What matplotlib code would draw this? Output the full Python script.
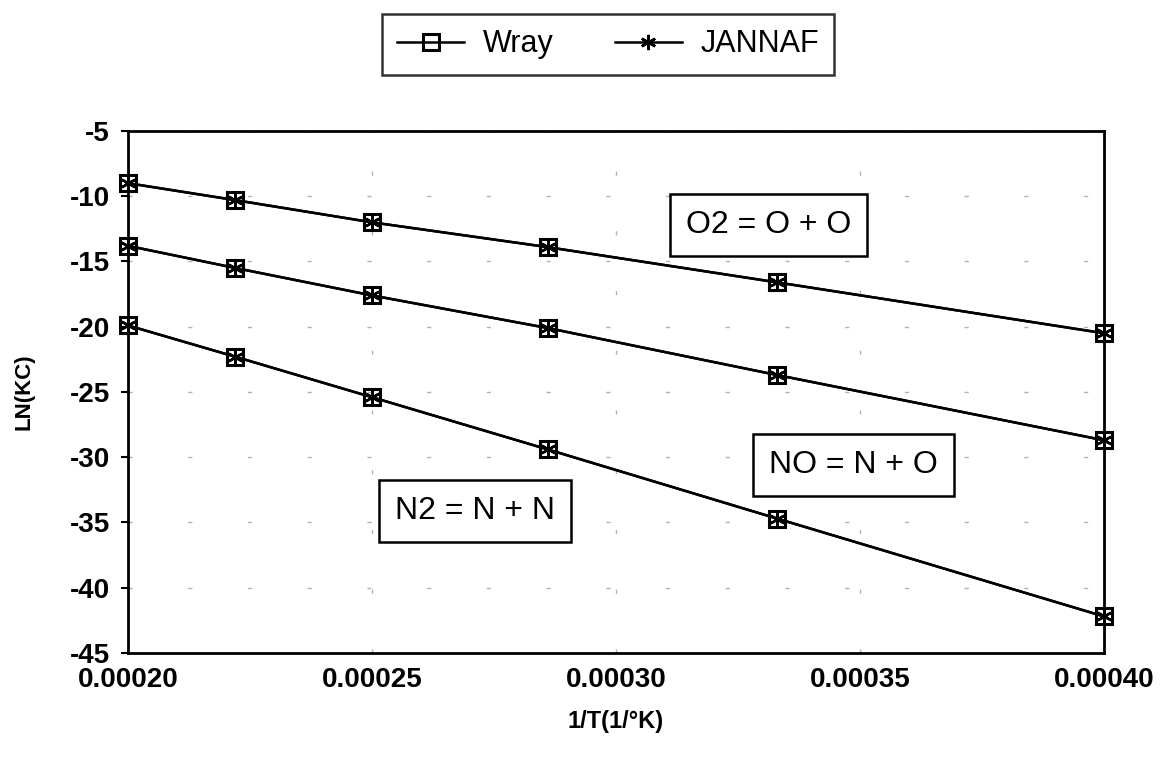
import matplotlib.pyplot as plt

plt.rcParams['font.family'] = ['Liberation Sans', 'DejaVu Sans']
plt.rcParams['axes.unicode_minus'] = False

# 1/T values for T = 5000, 4500, 4000, 3500, 3000, 2500 K
inv_t = [0.000200, 0.000222, 0.000250, 0.000286, 0.000333, 0.000400]

# LN(KC)
wray_o2 = [-9.0, -10.3, -12.0, -13.9, -16.6, -20.5]
wray_no = [-13.8, -15.5, -17.6, -20.1, -23.7, -28.7]
wray_n2 = [-19.9, -22.3, -25.4, -29.4, -34.7, -42.2]

jannaf_o2 = [-9.0, -10.3, -12.0, -13.9, -16.6, -20.5]
jannaf_no = [-13.8, -15.5, -17.6, -20.1, -23.7, -28.7]
jannaf_n2 = [-19.9, -22.3, -25.4, -29.4, -34.7, -42.2]

reactions = ['O2 = O + O', 'NO = N + O', 'N2 = N + N']
label_pos = [(0.0003313, -12.2), (0.0003486, -30.6), (0.0002711, -34.1)]

fig = plt.figure(figsize=(11.76, 7.65), dpi=100)
ax = fig.add_axes([0.1088, 0.1464, 0.83, 0.6824])

wray_sets = [wray_o2, wray_no, wray_n2]
jannaf_sets = [jannaf_o2, jannaf_no, jannaf_n2]

for i, (w, j) in enumerate(zip(wray_sets, jannaf_sets)):
    ax.plot(inv_t, w, color='black', lw=1.8, marker='s', ms=12,
            mfc='none', mec='black', mew=2.2,
            label='Wray' if i == 0 else None, clip_on=False, zorder=3)
    ax.plot(inv_t, j, color='black', lw=1.8, marker=(6, 2, 0), ms=11,
            mec='black', mew=1.8,
            label='JANNAF' if i == 0 else None, clip_on=False, zorder=4)

for text, (x, y) in zip(reactions, label_pos):
    ax.text(x, y, text, fontsize=23, ha='center', va='center',
            bbox=dict(boxstyle='square,pad=0.5', fc='white', ec='black', lw=1.8),
            zorder=5)

ax.set_xlim(0.0002, 0.0004)
ax.set_ylim(-45, -5)
ax.set_xticks([0.00020, 0.00025, 0.00030, 0.00035, 0.00040])
ax.set_xticklabels(['0.00020', '0.00025', '0.00030', '0.00035', '0.00040'])
ax.set_yticks(range(-45, -4, 5))

ax.grid(True, color='0.4', lw=1.0, linestyle=(0, (3, 40)), alpha=0.5)
ax.set_axisbelow(True)

for sp in ax.spines.values():
    sp.set_linewidth(2)
ax.tick_params(axis='y', direction='out', length=5, width=1.5, labelsize=20, pad=8)
ax.tick_params(axis='x', direction='out', length=0, labelsize=20, pad=10)
for lab in ax.get_xticklabels() + ax.get_yticklabels():
    lab.set_fontweight('bold')

ax.set_xlabel('1/T(1/°K)', fontsize=17, fontweight='bold', labelpad=12)
ax.set_ylabel('LN(KC)', fontsize=16, fontweight='bold', labelpad=25)

leg = fig.legend(loc='center', bbox_to_anchor=(0.517, 0.942), ncol=2,
                 fontsize=22, frameon=True, fancybox=False, handlelength=2.2,
                 columnspacing=2.0, borderpad=0.5, handletextpad=0.6)
leg.get_frame().set_edgecolor('black')
leg.get_frame().set_linewidth(1.8)

plt.savefig('out.png', dpi=100)
